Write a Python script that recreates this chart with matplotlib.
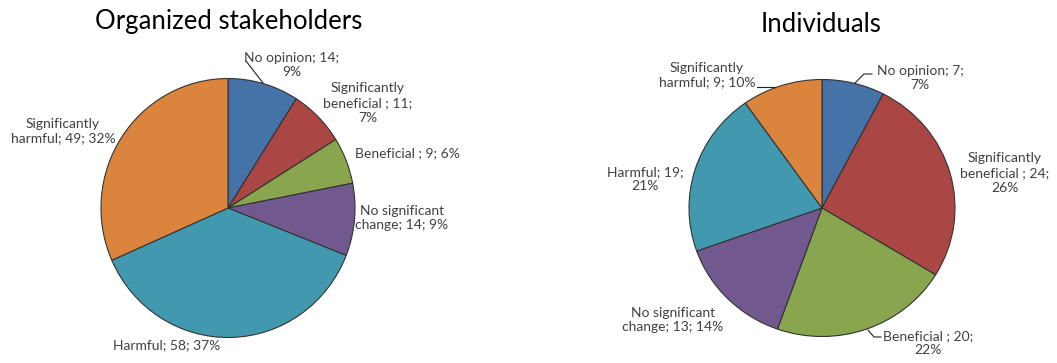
import matplotlib.pyplot as plt

# slice names (clockwise from 12 o'clock)
names = ["No opinion", "Significantly\nbeneficial ", "Beneficial ",
         "No significant\nchange", "Harmful", "Significantly\nharmful"]
colors = ["#4572A7", "#AA4643", "#89A54E", "#71588F", "#4198AF", "#DB843D"]

# Organized stakeholders
org_values = [14, 11, 9, 14, 58, 49]
org_pct = [9, 7, 6, 9, 37, 32]
org_fmt = ["{n}; {v};\n{p}%", "{n}; {v};\n{p}%", "{n}; {v}; {p}%",
           "{n}; {v}; {p}%", "{n}; {v}; {p}%", "{n}; {v}; {p}%"]

# Individuals
ind_values = [7, 24, 20, 13, 19, 9]
ind_pct = [7, 26, 22, 14, 21, 10]
ind_fmt = ["{n}; {v};\n{p}%", "{n}; {v};\n{p}%", "{n}; {v};\n{p}%",
           "{n}; {v}; {p}%", "{n}; {v};\n{p}%", "{n}; {v}; {p}%"]

W, H = 1057, 363
plt.rcParams['font.family'] = ['Lato', 'DejaVu Sans']
fig = plt.figure(figsize=(W / 100, H / 100), dpi=100)


def pie_axes(values, cx, cy, rx, ry, x0, x1):
    ax = fig.add_axes([x0 / W, 0, (x1 - x0) / W, 1])
    ax.pie(values, colors=colors, startangle=90, counterclock=False,
           radius=1, wedgeprops=dict(edgecolor="#333333", linewidth=0.8))
    ax.set_aspect('auto')
    ax.set_xlim((x0 - cx) / rx, (x1 - cx) / rx)
    ax.set_ylim((cy - H) / ry, cy / ry)
    ax.axis('off')
    return ax


pie_axes(org_values, 228, 208, 127, 129.5, 0, 528)
pie_axes(ind_values, 822, 208, 133, 128.5, 528, W)

# overlay in pixel coordinates for labels and leader lines
ov = fig.add_axes([0, 0, 1, 1])
ov.set_xlim(0, W)
ov.set_ylim(H, 0)
ov.axis('off')

ov.text(229, 22, "Organized stakeholders", fontsize=18.5, ha='center', va='center')
ov.text(821, 25, "Individuals", fontsize=18.5, ha='center', va='center')

org_pos = [(292, 65), (368, 103), (407, 153), (402, 218), (167, 345), (63, 131)]
ind_pos = [(920, 78), (1005, 173), (928, 343), (673, 320), (645, 179), (707, 75)]

lab_kw = dict(fontsize=10, color="#404040", ha='center', va='center', linespacing=1.25)
for i in range(6):
    ov.text(*org_pos[i], org_fmt[i].format(n=names[i], v=org_values[i], p=org_pct[i]), **lab_kw)
    ov.text(*ind_pos[i], ind_fmt[i].format(n=names[i], v=ind_values[i], p=ind_pct[i]), **lab_kw)

line_kw = dict(color="#222222", linewidth=0.8)
ov.plot([246, 263], [61, 83], **line_kw)
ov.plot([855, 864, 872], [83, 74, 74], **line_kw)
ov.plot([868, 874, 881], [330, 337, 337], **line_kw)
ov.plot([757, 775], [87, 87], **line_kw)

fig.savefig("out.png", dpi=100)
